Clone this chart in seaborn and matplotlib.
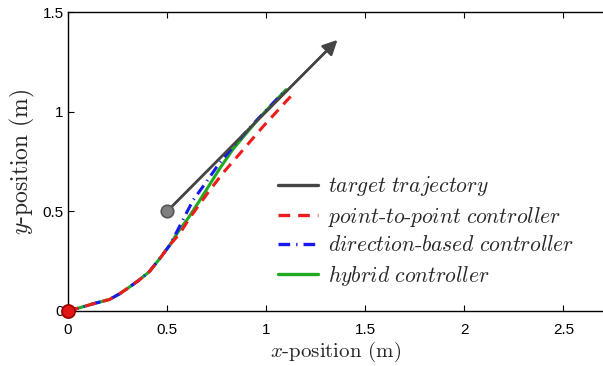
import numpy as np
import pandas as pd
import matplotlib
matplotlib.use("Agg")
import matplotlib.pyplot as plt
import seaborn as sns

# --- data ---
# shared start of all three controller paths
common_x = [0.0, 0.03, 0.13, 0.21, 0.26, 0.31, 0.36, 0.41, 0.464, 0.514]
common_y = [0.0, 0.008, 0.037, 0.058, 0.086, 0.12, 0.156, 0.197, 0.264, 0.331]

p2p_x = [0.565, 0.615, 0.70, 0.78, 0.85, 0.984, 1.125]
p2p_y = [0.39, 0.468, 0.585, 0.69, 0.77, 0.925, 1.078]

dir_x = [0.53, 0.575, 0.632, 0.70, 0.766, 0.917, 1.095]
dir_y = [0.36, 0.448, 0.557, 0.65, 0.745, 0.92, 1.105]

hyb_x = [0.556, 0.606, 0.665, 0.766, 0.833, 0.968, 1.10]
hyb_y = [0.398, 0.465, 0.555, 0.715, 0.812, 0.972, 1.11]

target_start = (0.5, 0.5)
target_end = (1.36, 1.36)
robot_start = (0.0, 0.0)

x_ticks = [0, 0.5, 1, 1.5, 2, 2.5]
y_ticks = [0, 0.5, 1, 1.5]

labels = [r"$target\ trajectory$",
          r"$point\text{-}to\text{-}point\ controller$",
          r"$direction\text{-}based\ controller$",
          r"$hybrid\ controller$"]

sns.set_style("ticks")
plt.rcParams["mathtext.fontset"] = "cm"
plt.rcParams["font.family"] = ["Liberation Sans", "DejaVu Sans"]
plt.rcParams["xtick.direction"] = "in"
plt.rcParams["ytick.direction"] = "in"

fig = plt.figure(figsize=(6.03, 3.66), dpi=100)
ax = fig.add_axes([68 / 603, 55 / 366, 535 / 603, 299 / 366])

c_target = "#454545"
c_red = "#ee1c1c"
c_blue = "#1818ee"
c_green = "#1faa1f"

def path(xs, ys):
    return pd.DataFrame({"x": common_x + xs, "y": common_y + ys})

sns.lineplot(data=path(hyb_x, hyb_y), x="x", y="y", sort=False, estimator=None,
             color=c_green, lw=2.2, ax=ax, zorder=3)
sns.lineplot(data=path(dir_x, dir_y), x="x", y="y", sort=False, estimator=None,
             color=c_blue, lw=2.2, linestyle=(0, (3.5, 1.8, 0.4, 1.8)), ax=ax, zorder=4)
sns.lineplot(data=path(p2p_x, p2p_y), x="x", y="y", sort=False, estimator=None,
             color=c_red, lw=2.2, linestyle=(0, (3.5, 2.4)), ax=ax, zorder=5)

tgt = pd.DataFrame({"x": [target_start[0], target_end[0] - 0.05],
                    "y": [target_start[1], target_end[1] - 0.05]})
sns.lineplot(data=tgt, x="x", y="y", sort=False, estimator=None,
             color=c_target, lw=1.8, ax=ax, zorder=6)
ax.annotate("", xy=target_end, xytext=target_start,
            arrowprops=dict(arrowstyle="-|>", color=c_target, lw=1.8,
                            mutation_scale=22, shrinkA=0, shrinkB=0), zorder=6)

ax.plot(*target_start, "o", ms=9, mfc="#7f7f7f", mec="#555555", mew=1.2, zorder=7)
ax.plot(*robot_start, "o", ms=9.5, mfc="#e01515", mec="#990000", mew=1.2,
        zorder=8, clip_on=False)

ax.set_xlim(0, 2.7)
ax.set_ylim(0, 1.5)
ax.set_xticks(x_ticks)
ax.set_xticklabels(["0", "0.5", "1", "1.5", "2", "2.5"])
ax.set_yticks(y_ticks)
ax.set_yticklabels(["0", "0.5", "1", "1.5"])
ax.tick_params(axis="both", labelsize=11, length=4, width=0.8, colors="black",
               top=True, right=False)
ax.tick_params(axis="x", pad=9)
ax.tick_params(axis="y", pad=3)
for s in ["left", "bottom", "top"]:
    ax.spines[s].set_linewidth(1.0)
    ax.spines[s].set_color("black")
ax.spines["right"].set_visible(False)

ax.set_xlabel(r"$x$-position (m)", fontfamily="cmr10", fontsize=15, labelpad=2)
ax.set_ylabel(r"$y$-position (m)", fontfamily="cmr10", fontsize=17, labelpad=4)

handles = [
    plt.Line2D([], [], color=c_target, lw=2.4),
    plt.Line2D([], [], color=c_red, lw=2.4, linestyle=(0, (3.5, 2.4))),
    plt.Line2D([], [], color=c_blue, lw=2.4, linestyle=(0, (3.5, 1.8, 0.4, 1.8))),
    plt.Line2D([], [], color=c_green, lw=2.4),
]
ax.legend(handles, labels, loc="center left", bbox_to_anchor=(278 / 603, 1 - 231 / 366),
          bbox_transform=fig.transFigure, frameon=False, fontsize=15.5,
          handlelength=1.85, handletextpad=0.45, labelspacing=0.3,
          borderpad=0, borderaxespad=0)

fig.savefig("out.png", dpi=100)
